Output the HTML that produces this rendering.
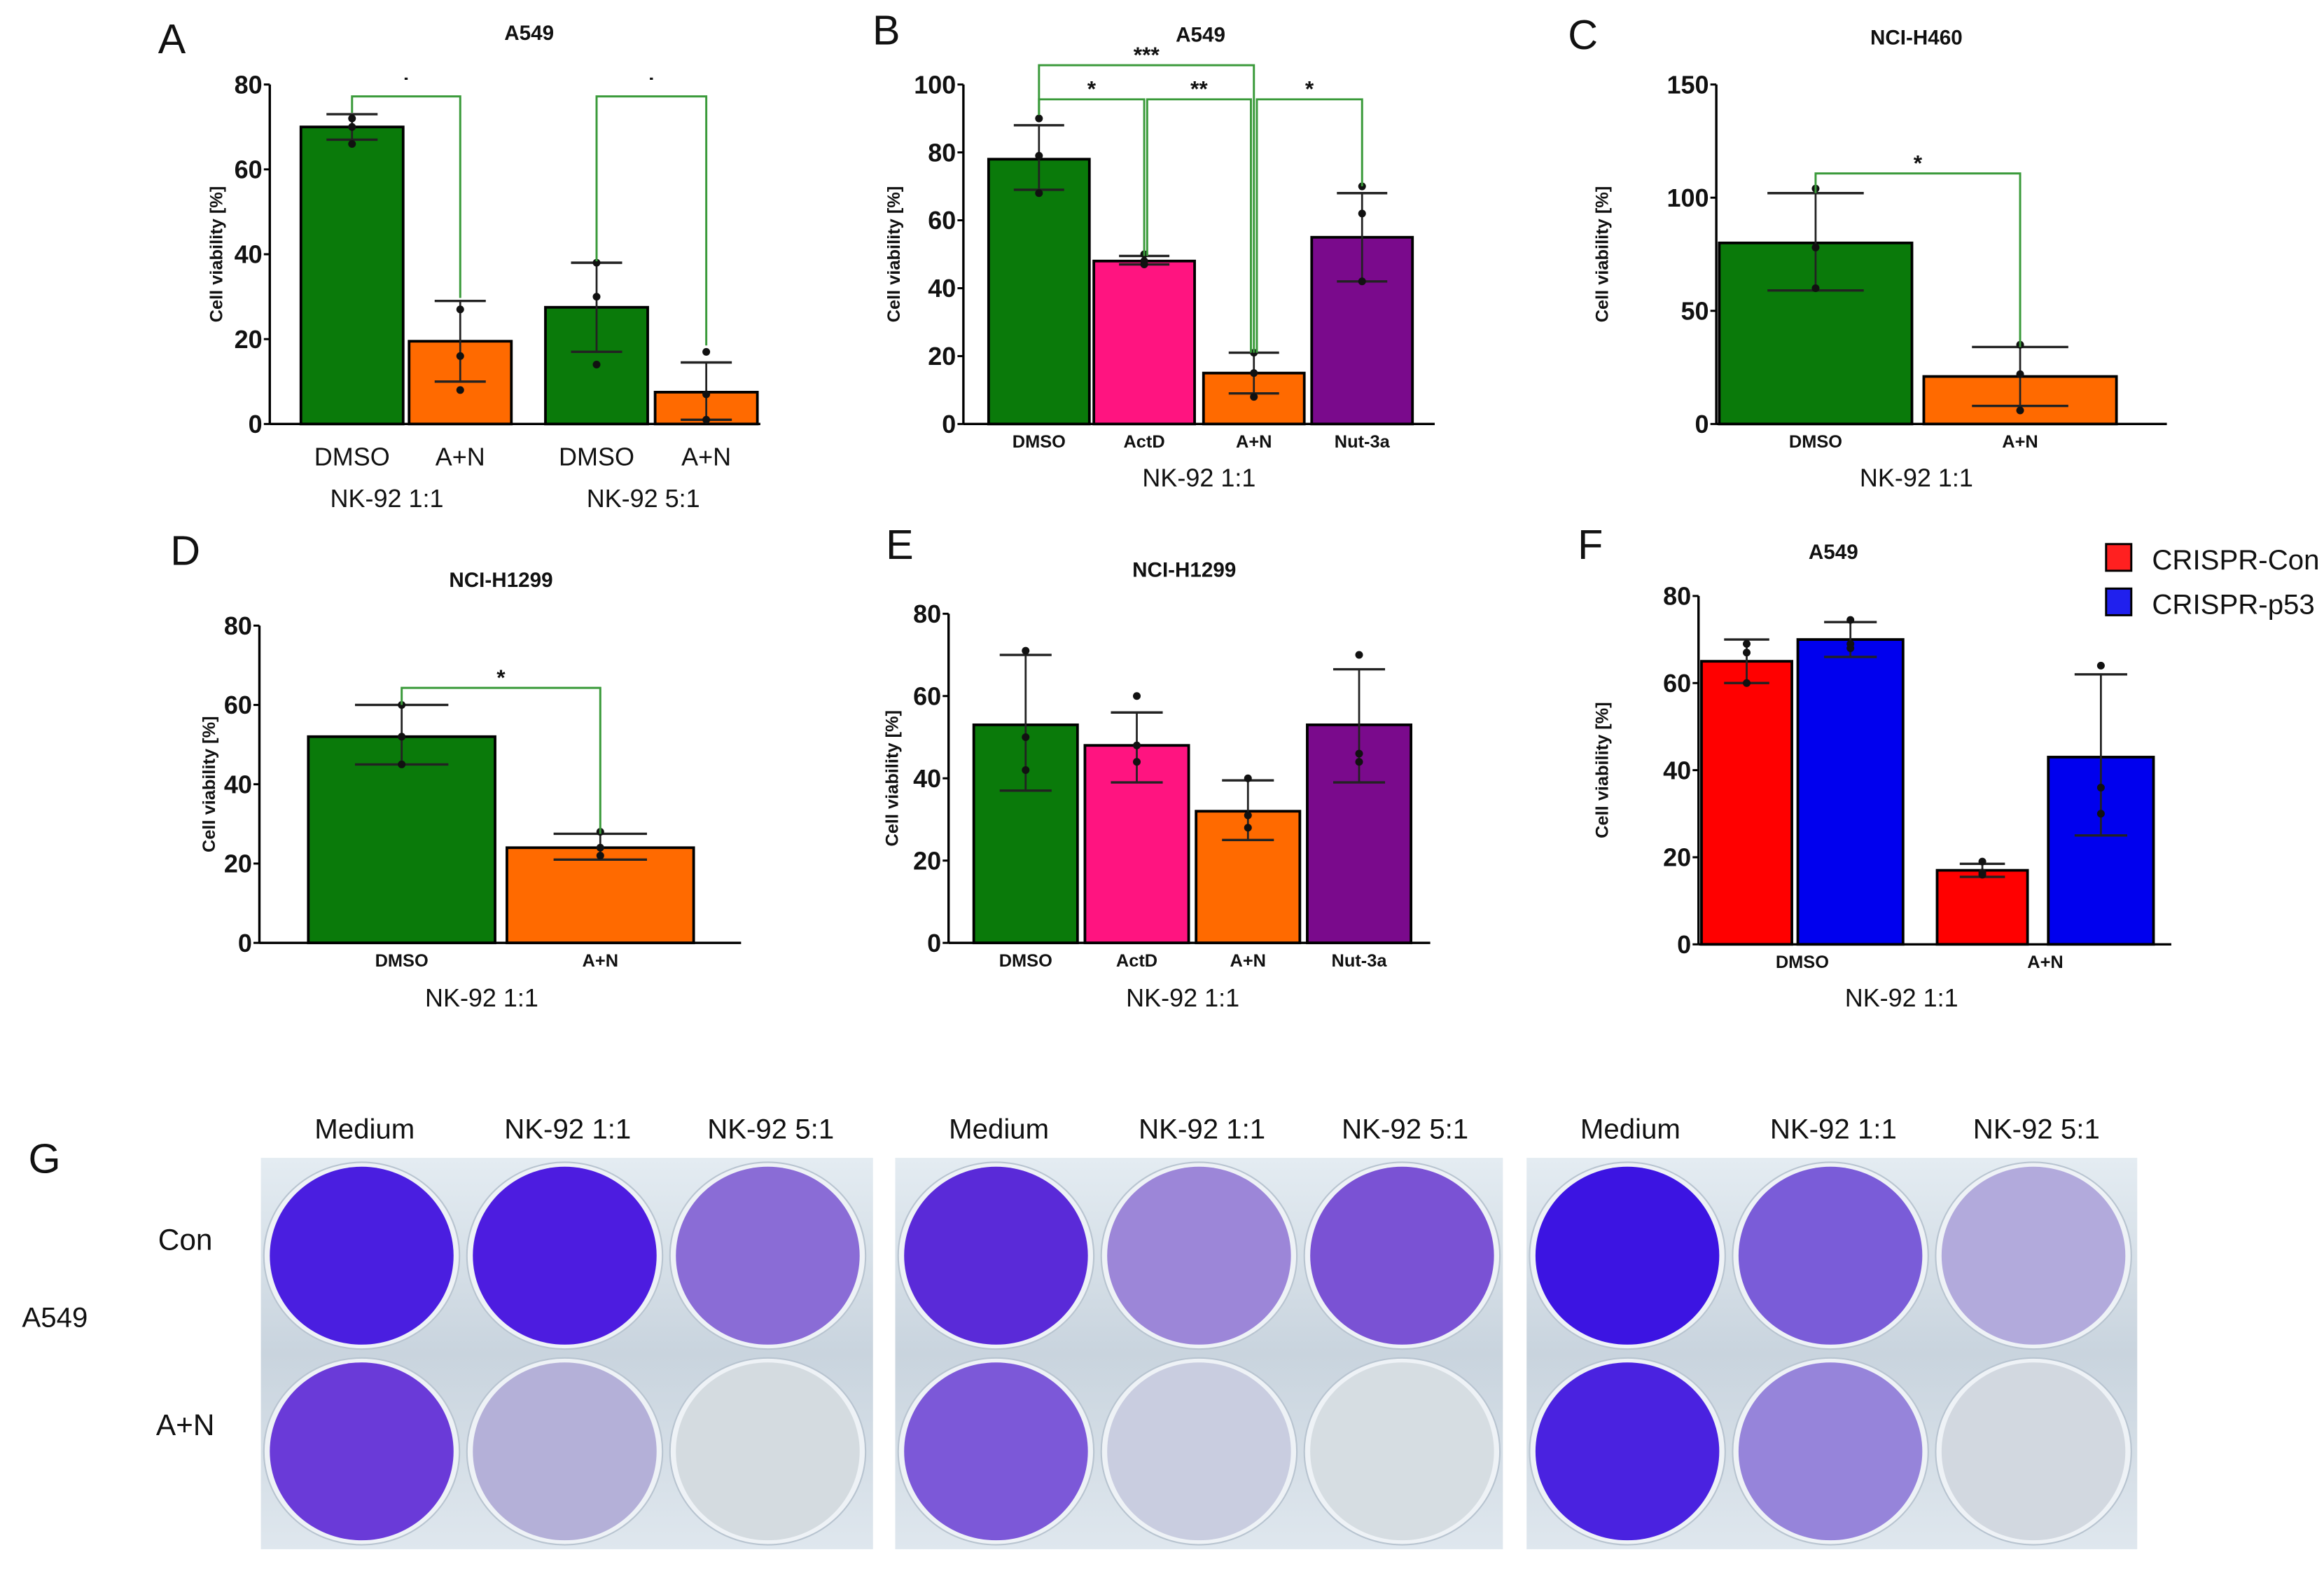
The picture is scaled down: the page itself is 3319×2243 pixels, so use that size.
<!DOCTYPE html>
<html><head><meta charset="utf-8">
<style>
html,body{margin:0;padding:0;background:#fff;}
svg{display:block;}
text{font-family:"Liberation Sans Narrow","Liberation Sans",sans-serif;}
</style></head>
<body>
<svg id="fig" width="3319" height="2243" viewBox="0 0 1568 1059.7" xmlns="http://www.w3.org/2000/svg"></svg>
<script>
// ---------- DATA ----------
const aCategories = ["DMSO","A+N","DMSO","A+N"];
const aValues = [70,19.5,27.5,7.5];
const aErrHi = [73,29,38,14.5];
const aErrLo = [67,10,17,1];
const aPoints = [[72,70,66],[27,16,8],[38,30,14],[17,7,1]];
const aTicks = [0,20,40,60,80];

const bCategories = ["DMSO","ActD","A+N","Nut-3a"];
const bValues = [78,48,15,55];
const bErrHi = [88,49.5,21,68];
const bErrLo = [69,47,9,42];
const bPoints = [[90,79,68],[50,48,47],[21,15,8],[70,62,42]];
const bTicks = [0,20,40,60,80,100];

const cCategories = ["DMSO","A+N"];
const cValues = [80,21];
const cErrHi = [102,34];
const cErrLo = [59,8];
const cPoints = [[104,78,60],[35,22,6]];
const cTicks = [0,50,100,150];

const dCategories = ["DMSO","A+N"];
const dValues = [52,24];
const dErrHi = [60,27.5];
const dErrLo = [45,21];
const dPoints = [[60,52,45],[28,24,22]];
const dTicks = [0,20,40,60,80];

const eCategories = ["DMSO","ActD","A+N","Nut-3a"];
const eValues = [53,48,32,53];
const eErrHi = [70,56,39.5,66.5];
const eErrLo = [37,39,25,39];
const ePoints = [[71,50,42],[60,48,44],[40,31,28],[70,46,44]];
const eTicks = [0,20,40,60,80];

const fGroups = ["DMSO","A+N"];
const fConValues = [65,17];
const fP53Values = [70,43];
const fConErrHi = [70,18.5];
const fConErrLo = [60,15.5];
const fP53ErrHi = [74,62];
const fP53ErrLo = [66,25];
const fConPoints = [[69,67,60],[19,16.5,16]];
const fP53Points = [[74.5,69,68],[64,36,30]];
const fTicks = [0,20,40,60,80];

const wellRows = ["Con","A+N"];
const wellCols = ["Medium","NK-92  1:1","NK-92  5:1"];
const wellColors = [
 [["#4a1ee0","#4d1ce0","#8a6cd6"],["#6a3ad8","#b4b0d8","#d4dbe0"]],
 [["#5a2ad8","#9c86d8","#7a52d4"],["#7c58d8","#c9cde0","#d6dde2"]],
 [["#3c14e2","#7a5cd8","#b2aadc"],["#4a22e0","#9684da","#d2d8e0"]]
];

// ---------- HELPERS ----------
const NS="http://www.w3.org/2000/svg";
const svg=document.getElementById('fig');
function el(tag,attrs,parent,txt){
  const e=document.createElementNS(NS,tag);
  for(const k in attrs)e.setAttribute(k,attrs[k]);
  if(txt!==undefined)e.textContent=txt;
  (parent||svg).appendChild(e);return e;
}
function group(name){
  const g=document.createElementNS(NS,'g');
  
  
  svg.appendChild(g);return g;
}
function txt(g,x,y,s,size,opts){
  opts=opts||{};
  const t=el('text',{x:x,y:y,'font-size':size,'text-anchor':opts.anchor||'middle','font-weight':opts.bold?'bold':'normal',fill:'#111'},g,s);
  if(opts.rot)t.setAttribute('transform','rotate(-90 '+x+' '+y+')');
  if(opts.family)t.setAttribute('style','font-family:'+opts.family);
  return t;
}
function axis(g,x0,y0,yTop,max,ticks,xEnd,ylabelX){
  const sy=v=>y0-(v/max)*(y0-yTop);
  el('line',{x1:x0,y1:y0,x2:x0,y2:yTop,stroke:'#000','stroke-width':1.6},g);
  el('line',{x1:x0,y1:y0,x2:xEnd,y2:y0,stroke:'#000','stroke-width':1.6},g);
  ticks.forEach(t=>{
    const y=sy(t);
    el('line',{x1:x0-4,y1:y,x2:x0,y2:y,stroke:'#000','stroke-width':1.4},g);
    const tl=txt(g,x0-5,y+6,String(t),17,{anchor:'end',bold:true});
    
    
  });
  const yl=txt(g,ylabelX,(y0+yTop)/2,'Cell viability  [%]',12,{rot:true,bold:true});
  
  
  return sy;
}
function bar(g,x1,x2,v,sy,y0,color,hi,lo,pts,name){
  const r=el('rect',{x:x1,y:sy(v),width:x2-x1,height:y0-sy(v),fill:color,stroke:'#000','stroke-width':1.8},g);
  
  
  const cx=(x1+x2)/2,w=(x2-x1)*0.25;
  el('line',{x1:cx,y1:sy(hi),x2:cx,y2:sy(lo),stroke:'#222','stroke-width':1.3},g);
  el('line',{x1:cx-w,y1:sy(hi),x2:cx+w,y2:sy(hi),stroke:'#222','stroke-width':1.6},g);
  el('line',{x1:cx-w,y1:sy(lo),x2:cx+w,y2:sy(lo),stroke:'#222','stroke-width':1.6},g);
  pts.forEach(p=>{
    const c=el('circle',{cx:cx,cy:sy(p),r:2.6,fill:'#111'},g);
    
    
  });
  return cx;
}
function bracket(g,xa,xb,y,ya,yb,label){
  el('polyline',{points:xa+','+ya+' '+xa+','+y+' '+xb+','+y+' '+xb+','+yb,fill:'none',stroke:'#3a9a3a','stroke-width':1.4},g);
  if(label){const t=txt(g,(xa+xb)/2,y-2,label,15,{bold:true});
    
    }
}
function simple(name,letter,lx,ly,title,tx,ty,x0,y0,yTop,max,ticks,xEnd,ylx,cats,vals,hi,lo,pts,colors,xs,w,catY,catSize,catBold,subs){
  const g=group(name);
  txt(g,lx,ly,letter,28,{anchor:'middle',family:'"Liberation Sans",sans-serif'});
  txt(g,tx,ty,title,14,{bold:true,family:'"Liberation Sans",sans-serif'});
  const sy=axis(g,x0,y0,yTop,max,ticks,xEnd,ylx);
  const cxs=[];
  cats.forEach((c,i)=>{
    const cx=bar(g,xs[i],xs[i]+w,vals[i],sy,y0,colors[i],hi[i],lo[i],pts[i],'bar-'+c.toLowerCase().replace(/[^a-z0-9]/g,'')+'-'+i);
    cxs.push(cx);
    const t=txt(g,cx,catY,c,catSize,{bold:catBold});
    
    
  });
  (subs||[]).forEach(s=>{const t=txt(g,s[0],s[1],s[2],17);
    
    });
  return {g,sy,cxs};
}
const G='#0a7a0a',O='#ff6a00',P='#ff1480',V='#7a0a8c';

// Panel A
(function(){
  const r=simple('panel-a','A',116,36,'A549',357,27,182,286,57,80,aTicks,513,150,
    aCategories,aValues,aErrHi,aErrLo,aPoints,[G,O,G,O],[203,276,368,442],69,314,17,false,
    [[261,342,'NK-92 1:1'],[434,342,'NK-92 5:1']]);
  bracket(r.g,r.cxs[0],r.cxs[1],65,r.sy(aErrHi[0])-1,r.sy(aErrHi[1])-2,'\u02D9');
  bracket(r.g,r.cxs[2],r.cxs[3],65,r.sy(aErrHi[2])-1,r.sy(aErrHi[3]+4),'\u02D9');
})();
// Panel B
(function(){
  const r=simple('panel-b','B',598,30,'A549',810,28,650,286,57,100,bTicks,968,607,
    bCategories,bValues,bErrHi,bErrLo,bPoints,[G,P,O,V],[667,738,812,885],68,302,12,true,
    [[809,328,'NK-92 1:1']]);
  const c=r.cxs;
  bracket(r.g,c[0],c[2],44,r.sy(bErrHi[0]+3),r.sy(bErrHi[2]),'***');
  bracket(r.g,c[0],c[1],67,r.sy(bErrHi[0]+3),r.sy(bErrHi[1]),'*');
  bracket(r.g,c[1]+2,c[2]-2,67,r.sy(bErrHi[1]),r.sy(bErrHi[2]),'**');
  bracket(r.g,c[2]+2,c[3],67,r.sy(bErrHi[2]),r.sy(bErrHi[3]+2),'*');
})();
// Panel C
(function(){
  const r=simple('panel-c','C',1068,33,'NCI-H460',1293,30,1158,286,57,150,cTicks,1462,1085,
    cCategories,cValues,cErrHi,cErrLo,cPoints,[G,O],[1160,1298],130,302,12,true,
    [[1293,328,'NK-92 1:1']]);
  bracket(r.g,r.cxs[0],r.cxs[1],117,r.sy(cErrHi[0]),r.sy(cErrHi[1]),'*');
})();
// Panel D
(function(){
  const r=simple('panel-d','D',125,381,'NCI-H1299',338,396,175,636,422,80,dTicks,500,145,
    dCategories,dValues,dErrHi,dErrLo,dPoints,[G,O],[208,342],126,652,12,true,
    [[325,679,'NK-92 1:1']]);
  bracket(r.g,r.cxs[0],r.cxs[1],464,r.sy(dErrHi[0]),r.sy(dErrHi[1]),'*');
})();
// Panel E
(function(){
  simple('panel-e','E',607,377,'NCI-H1299',799,389,640,636,414,80,eTicks,965,606,
    eCategories,eValues,eErrHi,eErrLo,ePoints,[G,P,O,V],[657,732,807,882],70,652,12,true,
    [[798,679,'NK-92 1:1']]);
})();
// Panel F
(function(){
  const g=group('panel-f');
  txt(g,1073,377,'F',28,{family:'"Liberation Sans",sans-serif'});
  txt(g,1237,377,'A549',14,{bold:true,family:'"Liberation Sans",sans-serif'});
  const sy=axis(g,1146,637,402,80,fTicks,1465,1085);
  const conX=[1148,1307],p53X=[1213,1382];
  fGroups.forEach((gr,i)=>{
    bar(g,conX[i],conX[i]+61,fConValues[i],sy,637,'#ff0000',fConErrHi[i],fConErrLo[i],fConPoints[i],'bar-crispr-con-'+gr.toLowerCase().replace(/[^a-z]/g,''));
    bar(g,p53X[i],p53X[i]+71,fP53Values[i],sy,637,'#0000ee',fP53ErrHi[i],fP53ErrLo[i],fP53Points[i],'bar-crispr-p53-'+gr.toLowerCase().replace(/[^a-z]/g,''));
    const t=txt(g,(conX[i]+p53X[i]+71)/2,653,gr,12,{bold:true});
    
    
  });
  txt(g,1283,679,'NK-92 1:1',17);
  const l1=el('g',{},g);
  
  
  el('rect',{x:1421,y:367,width:17,height:18,fill:'#ff2020',stroke:'#000','stroke-width':1.4},l1);
  txt(l1,1452,384,'CRISPR-Con',19,{anchor:'start'});
  const l2=el('g',{},g);
  
  
  el('rect',{x:1421,y:397,width:17,height:18,fill:'#2020ee',stroke:'#000','stroke-width':1.4},l2);
  txt(l2,1452,414,'CRISPR-p53',19,{anchor:'start'});
})();
// Panel G
(function(){
  const g=group('panel-g');
  txt(g,30,791,'G',28,{family:'"Liberation Sans",sans-serif'});
  txt(g,37,895,'A549',19);
  const plateX=[176,604,1030],plateW=[413,410,412];
  const defs=el('defs',{},svg);
  const lg=el('linearGradient',{id:'plateGrad',x1:0,y1:0,x2:0,y2:1},defs);
  el('stop',{offset:'0','stop-color':'#e4ecf2'},lg);
  el('stop',{offset:'0.5','stop-color':'#c9d4de'},lg);
  el('stop',{offset:'1','stop-color':'#dfe7ee'},lg);
  wellRows.forEach((r,ri)=>{
    const t=txt(g,125,ri?968:843,r,20);
    
    
  });
  plateX.forEach((px,pi)=>{
    const pl=el('rect',{x:px,y:781,width:plateW[pi],height:264,fill:'url(#plateGrad)'},g);
    
    
    wellCols.forEach((c,ci)=>{
      const cx=px+68+ci*137;
      const t=txt(g,cx+2,768,c,19);
      
      
      wellRows.forEach((r,ri)=>{
        const cy=ri?979:847;
        el('ellipse',{cx:cx,cy:cy,rx:66,ry:63,fill:'#eef2f6',stroke:'#b8c4d0','stroke-width':1},g);
        const w=el('ellipse',{cx:cx,cy:cy,rx:62,ry:60,fill:wellColors[pi][ri][ci]},g);
        
        
      });
    });
  });
})();
</script>
</body></html>
